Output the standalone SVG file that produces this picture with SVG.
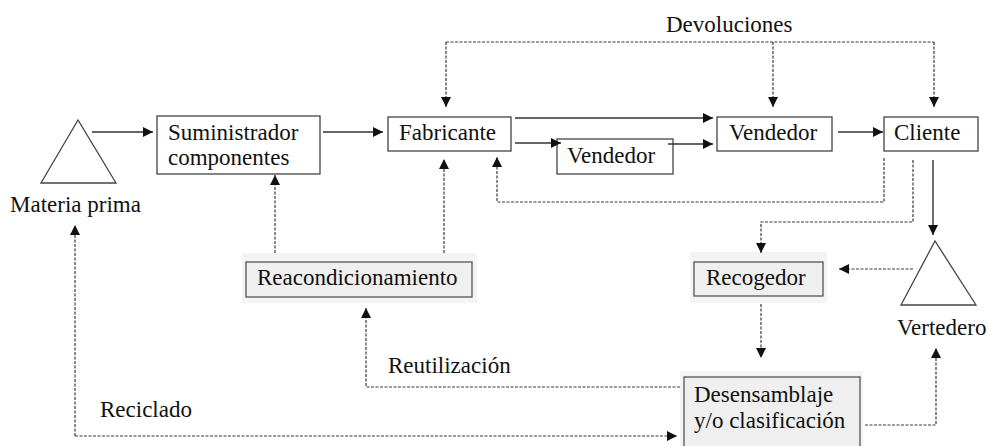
<svg xmlns="http://www.w3.org/2000/svg" width="989" height="446" viewBox="0 0 989 446">
<style>
text{font-family:"Liberation Serif","Times New Roman",serif;font-size:23px;fill:#111}
.box{fill:#fff;stroke:#444;stroke-width:1.3}
.gbox{fill:#efefef;stroke:#555;stroke-width:1.3}
.shade{fill:#f4f4f4}
.tri{fill:#fff;stroke:#444;stroke-width:1.3}
.solid{fill:none;stroke:#333;stroke-width:1.4}
.dash{fill:none;stroke:#3a3a3a;stroke-width:1.2;stroke-dasharray:3 1.5}
</style>
<defs>
<marker id="ah" viewBox="0 0 10 10" refX="10" refY="5" markerWidth="10" markerHeight="10" markerUnits="userSpaceOnUse" orient="auto">
<path d="M0,0 L10,5 L0,10 z" fill="#111"/>
</marker>
</defs>
<rect width="989" height="446" fill="#fff"/>
<g id="materia-prima">
<polygon class="tri" points="78,120 41,183 116,183"/>
<text x="10" y="212">Materia prima</text>
</g>
<g id="suministrador">
<rect class="box" x="157" y="116" width="163" height="58"/>
<text x="168" y="140">Suministrador</text>
<text x="168" y="165">componentes</text>
</g>
<g id="fabricante">
<rect class="box" x="388" y="117" width="123" height="34"/>
<text x="399" y="140">Fabricante</text>
</g>
<g id="vendedor-1">
<rect class="box" x="557" y="139" width="116" height="35"/>
<text x="567" y="163">Vendedor</text>
</g>
<g id="vendedor-2">
<rect class="box" x="717" y="117" width="115" height="34"/>
<text x="729" y="140">Vendedor</text>
</g>
<g id="cliente">
<rect class="box" x="884" y="117" width="94" height="34"/>
<text x="894" y="140">Cliente</text>
</g>
<g id="vertedero">
<polygon class="tri" points="935,241 901,305 976,305"/>
<text x="897" y="335">Vertedero</text>
</g>
<g id="recogedor">
<rect class="shade" x="690" y="252" width="137" height="51"/>
<rect class="gbox" x="694" y="262" width="129" height="34"/>
<text x="706" y="285">Recogedor</text>
</g>
<g id="reacondicionamiento">
<rect class="shade" x="242" y="253" width="235" height="50"/>
<rect class="gbox" x="246" y="262" width="226" height="35"/>
<text x="257" y="285">Reacondicionamiento</text>
</g>
<g id="desensamblaje">
<rect class="shade" x="680" y="371" width="183" height="80"/>
<rect class="gbox" x="684" y="377" width="176" height="75"/>
<text x="694" y="402">Desensamblaje</text>
<text x="694" y="428">y/o clasificación</text>
</g>
<g id="labels">
<text x="666" y="32">Devoluciones</text>
<text x="388" y="373">Reutilización</text>
<text x="100" y="417">Reciclado</text>
</g>
<g id="connectors">
<path class="solid" d="M92,132 H153" marker-end="url(#ah)"/>
<path class="solid" d="M323,132 H383" marker-end="url(#ah)"/>
<path class="solid" d="M515,118 H713" marker-end="url(#ah)"/>
<path class="solid" d="M515,143 H561" marker-end="url(#ah)"/>
<path class="solid" d="M668,144 H713" marker-end="url(#ah)"/>
<path class="solid" d="M838,132 H883" marker-end="url(#ah)"/>
<path class="solid" d="M933,160 V235" marker-end="url(#ah)"/>
<path class="dash" d="M446,42 H934"/>
<path class="dash" d="M446,42 V107" marker-end="url(#ah)"/>
<path class="dash" d="M773,42 V107" marker-end="url(#ah)"/>
<path class="dash" d="M934,42 V107" marker-end="url(#ah)"/>
<path class="dash" d="M884,158 V202 H497 V157" marker-end="url(#ah)"/>
<path class="dash" d="M913,160 V222 H761 V253" marker-end="url(#ah)"/>
<path class="dash" d="M913,269 H839" marker-end="url(#ah)"/>
<path class="dash" d="M761,304 V358" marker-end="url(#ah)"/>
<path class="dash" d="M865,425 H936 V348" marker-end="url(#ah)"/>
<path class="dash" d="M680,387 H366 V308" marker-end="url(#ah)"/>
<path class="dash" d="M75,436 H677" marker-end="url(#ah)"/>
<path class="dash" d="M75,436 V225" marker-end="url(#ah)"/>
<path class="dash" d="M275,253 V175" marker-end="url(#ah)"/>
<path class="dash" d="M444,253 V159" marker-end="url(#ah)"/>
</g>
</svg>
